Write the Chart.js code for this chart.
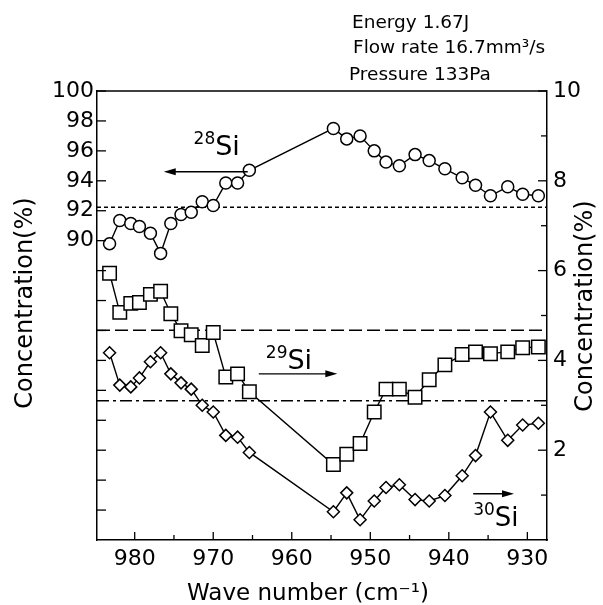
<!DOCTYPE html>
<html>
<head>
<meta charset="utf-8">
<script src="https://cdn.jsdelivr.net/npm/chart.js@4/dist/chart.umd.min.js"></script>
<style>
  html, body { margin: 0; padding: 0; background: #fff; }
  #wrap { width: 603px; height: 605px; }
</style>
</head>
<body>
<div id="wrap"><canvas id="grafico" width="603" height="605"></canvas></div>
<script>
// wave numbers (cm-1) shared by the three isotopes
const waveNumber = [983.2, 981.9, 980.5, 979.4, 978.0, 976.7, 975.4, 974.1, 972.8, 971.4,
  970.0, 968.4, 966.9, 965.4, 954.7, 953.0, 951.3, 949.5, 948.0, 946.3,
  944.3, 942.5, 940.5, 938.3, 936.6, 934.7, 932.5, 930.6, 928.6];
// 28Si, left axis (%)
const si28 = [89.8, 91.35, 91.15, 90.95, 90.5, 89.15, 91.15, 91.75, 91.9, 92.6,
  92.35, 93.85, 93.85, 94.7, 97.5, 96.8, 97.0, 96.0, 95.25, 95.0,
  95.75, 95.35, 94.8, 94.2, 93.7, 93.0, 93.6, 93.1, 93.0];
// 29Si, right axis (%)
const si29 = [5.94, 5.07, 5.27, 5.29, 5.47, 5.54, 5.04, 4.66, 4.57, 4.33,
  4.62, 3.63, 3.70, 3.30, 1.68, 1.91, 2.15, 2.85, 3.36, 3.36,
  3.18, 3.57, 3.90, 4.13, 4.19, 4.15, 4.19, 4.28, 4.30];
// 30Si, right axis (%)
const si30 = [4.17, 3.45, 3.41, 3.61, 3.97, 4.17, 3.70, 3.50, 3.36, 3.00,
  2.85, 2.33, 2.29, 1.95, 0.63, 1.05, 0.45, 0.87, 1.17, 1.23,
  0.90, 0.87, 0.99, 1.43, 1.88, 2.85, 2.22, 2.56, 2.60];
// natural abundances (horizontal reference lines)
const natural28 = 92.23;
const natural29 = 4.67;
const natural30 = 3.10;

const xTicks = [930, 935, 940, 945, 950, 955, 960, 965, 970, 975, 980];
const leftTicks = [72, 74, 76, 78, 80, 82, 84, 86, 88, 90, 92, 94, 96, 98, 100];
const rightTicks = [1, 2, 3, 4, 5, 6, 7, 8, 9, 10];
const conditions = ['Energy 1.67J', 'Flow rate 16.7mm³/s', 'Pressure 133Pa'];

const FONT = 'DejaVu Sans';
const tickFont = { family: FONT, size: 22 };

function pontos(ys) {
  return waveNumber.map((x, i) => ({ x: x, y: ys[i] }));
}

function serie(label, ys, eixo, estilo, raio) {
  return {
    label: label,
    data: pontos(ys),
    yAxisID: eixo,
    showLine: true,
    borderColor: '#000',
    borderWidth: 1.4,
    pointStyle: estilo,
    pointRadius: raio,
    pointBackgroundColor: '#fff',
    pointBorderColor: '#000',
    pointBorderWidth: 1.5
  };
}

function setaTexto(ctx, x, y, sup, main, supSize, mainSize) {
  ctx.textAlign = 'left';
  ctx.textBaseline = 'alphabetic';
  ctx.font = supSize + 'px "' + FONT + '"';
  ctx.fillText(sup, x, y - mainSize * 0.42);
  const w = ctx.measureText(sup).width;
  ctx.font = mainSize + 'px "' + FONT + '"';
  ctx.fillText(main, x + w, y);
}

function seta(ctx, x1, x2, y) {
  const dir = x2 > x1 ? 1 : -1;
  ctx.beginPath();
  ctx.moveTo(x1, y);
  ctx.lineTo(x2 - dir * 8, y);
  ctx.lineWidth = 1.4;
  ctx.stroke();
  ctx.beginPath();
  ctx.moveTo(x2, y);
  ctx.lineTo(x2 - dir * 12, y - 3.5);
  ctx.lineTo(x2 - dir * 12, y + 3.5);
  ctx.closePath();
  ctx.fill();
}

const extras = {
  id: 'extras',
  beforeDatasetsDraw(chart) {
    const { ctx, chartArea: a, scales } = chart;
    ctx.save();
    ctx.strokeStyle = '#000';
    ctx.lineWidth = 1.5;
    const linha = (y, dash) => {
      ctx.setLineDash(dash);
      ctx.beginPath();
      ctx.moveTo(a.left, y);
      ctx.lineTo(a.right, y);
      ctx.stroke();
    };
    linha(scales.yL.getPixelForValue(natural28), [4, 3]);
    linha(scales.yR.getPixelForValue(natural29), [13, 5]);
    linha(scales.yR.getPixelForValue(natural30), [12, 4, 3, 4]);
    ctx.restore();
  },
  afterDraw(chart) {
    const { ctx, chartArea: a, scales } = chart;
    const sx = scales.x, sl = scales.yL, sr = scales.yR;
    ctx.save();
    ctx.strokeStyle = '#000';
    ctx.fillStyle = '#000';
    ctx.lineWidth = 1.5;
    // top frame line
    ctx.beginPath();
    ctx.moveTo(a.left, a.top);
    ctx.lineTo(a.right, a.top);
    ctx.stroke();
    // inward tick marks
    ctx.lineWidth = 1.3;
    sx.ticks.forEach(t => {
      const px = sx.getPixelForValue(t.value);
      const len = t.value % 10 === 0 ? 8 : 5;
      ctx.beginPath(); ctx.moveTo(px, a.bottom); ctx.lineTo(px, a.bottom - len); ctx.stroke();
    });
    sl.ticks.forEach(t => {
      const py = sl.getPixelForValue(t.value);
      ctx.beginPath(); ctx.moveTo(a.left, py); ctx.lineTo(a.left + 9, py); ctx.stroke();
    });
    sr.ticks.forEach(t => {
      const py = sr.getPixelForValue(t.value);
      const len = t.value % 2 === 0 ? 9 : 6;
      ctx.beginPath(); ctx.moveTo(a.right, py); ctx.lineTo(a.right - len, py); ctx.stroke();
    });

    // axis titles
    ctx.textAlign = 'center';
    ctx.textBaseline = 'alphabetic';
    ctx.font = '24px "' + FONT + '"';
    ctx.save(); ctx.translate(32, 303); ctx.rotate(-Math.PI / 2); ctx.fillText('Concentration(%)', 0, 0); ctx.restore();
    ctx.save(); ctx.translate(592, 306); ctx.rotate(-Math.PI / 2); ctx.fillText('Concentration(%)', 0, 0); ctx.restore();
    ctx.font = '23px "' + FONT + '"';
    ctx.fillText('Wave number (cm⁻¹)', 308, 600);

    // experiment conditions
    ctx.textAlign = 'left';
    ctx.font = '18.5px "' + FONT + '"';
    ctx.fillText(conditions[0], 352, 28);
    ctx.fillText(conditions[1], 353, 53);
    ctx.fillText(conditions[2], 349, 80);

    // isotope labels and arrows
    setaTexto(ctx, sx.getPixelForValue(972.5), sr.getPixelForValue(8.57), '28', 'Si', 17, 27);
    seta(ctx, sx.getPixelForValue(965.6), sx.getPixelForValue(976.3), sr.getPixelForValue(8.2));
    setaTexto(ctx, sx.getPixelForValue(963.3), sr.getPixelForValue(3.81), '29', 'Si', 17, 27);
    seta(ctx, sx.getPixelForValue(964.2), sx.getPixelForValue(954.2), sr.getPixelForValue(3.70));
    setaTexto(ctx, sx.getPixelForValue(936.9), sr.getPixelForValue(0.31), '30', 'Si', 17, 26);
    seta(ctx, sx.getPixelForValue(936.9), sx.getPixelForValue(931.7), sr.getPixelForValue(1.03));
    ctx.restore();
  }
};

const ctx = document.getElementById('grafico').getContext('2d');
new Chart(ctx, {
  type: 'scatter',
  data: {
    datasets: [
      serie('28Si', si28, 'yL', 'circle', 6),
      serie('29Si', si29, 'yR', 'rect', 9.5),
      serie('30Si', si30, 'yR', 'rectRot', 6)
    ]
  },
  options: {
    responsive: false,
    animation: false,
    devicePixelRatio: 1,
    layout: { padding: { top: 91, left: 0, right: 0, bottom: 0 } },
    plugins: { legend: { display: false }, tooltip: { enabled: false } },
    scales: {
      x: {
        type: 'linear',
        reverse: true,
        min: 927.5,
        max: 984.8,
        afterBuildTicks: s => { s.ticks = xTicks.map(v => ({ value: v })); },
        afterFit: s => { s.height = 65; },
        ticks: { callback: v => (v % 10 === 0 ? String(v) : ''), font: tickFont, color: '#000', padding: 6, maxRotation: 0, autoSkip: false },
        grid: { display: false, drawTicks: false },
        border: { display: true, color: '#000', width: 1.5 }
      },
      yL: {
        type: 'linear',
        position: 'left',
        min: 70,
        max: 100,
        afterBuildTicks: s => { s.ticks = leftTicks.map(v => ({ value: v })); },
        afterFit: s => { s.width = 97; },
        ticks: { callback: v => (v >= 90 ? String(v) : ''), font: tickFont, color: '#000', padding: 3, autoSkip: false },
        grid: { display: false, drawTicks: false },
        border: { display: true, color: '#000', width: 1.5 }
      },
      yR: {
        type: 'linear',
        position: 'right',
        min: 0,
        max: 10,
        afterBuildTicks: s => { s.ticks = rightTicks.map(v => ({ value: v })); },
        afterFit: s => { s.width = 56; },
        ticks: { callback: v => (v % 2 === 0 ? String(v) : ''), font: tickFont, color: '#000', padding: 6, autoSkip: false },
        grid: { display: false, drawTicks: false },
        border: { display: true, color: '#000', width: 1.5 }
      }
    }
  },
  plugins: [extras]
});
</script>
</body>
</html>
